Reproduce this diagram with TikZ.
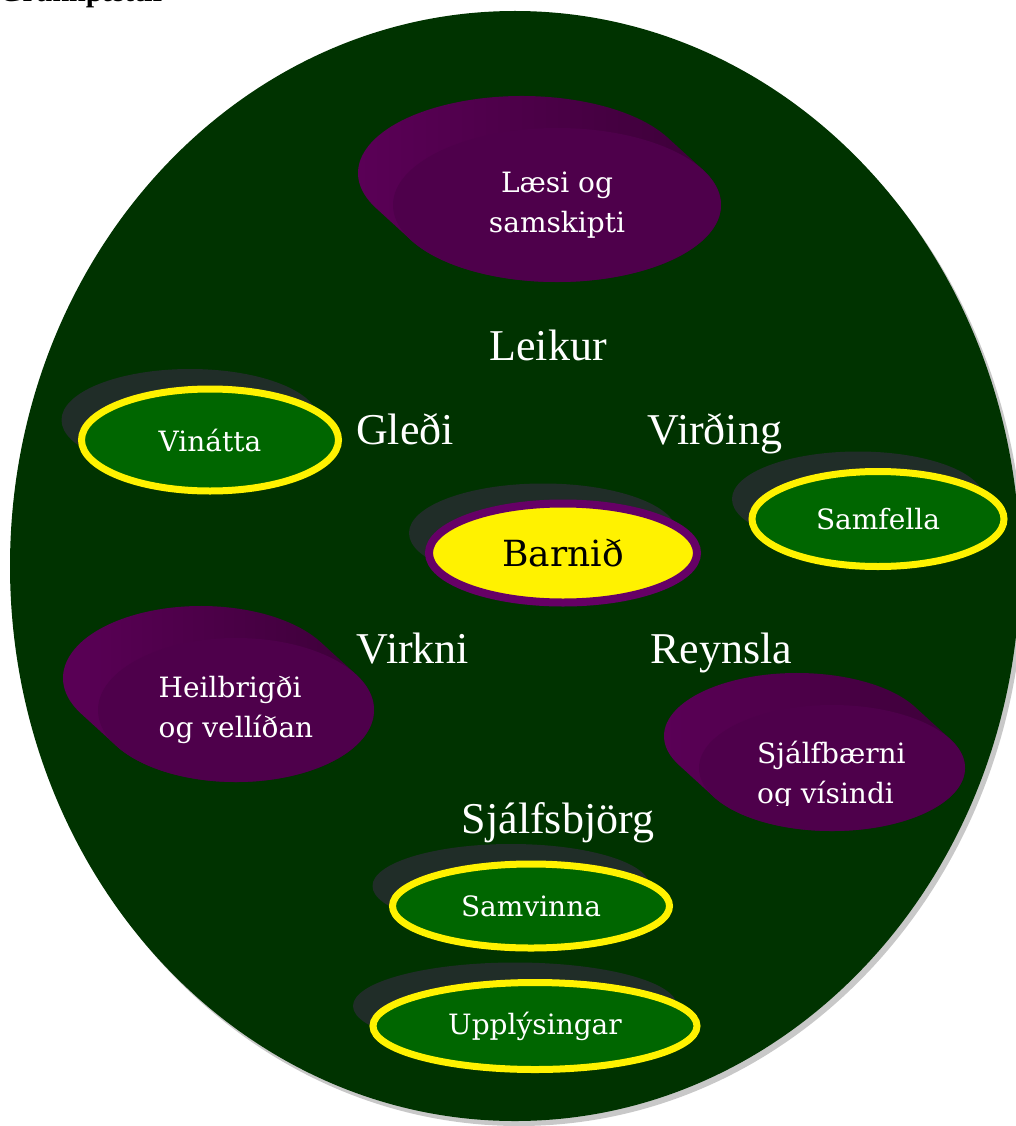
\documentclass[tikz,border=0pt]{standalone}
\usepackage{fontspec}
\usepackage{tikz}
\usetikzlibrary{shadows,shapes,positioning}
\newfontfamily\ovalfont{DejaVu Serif}
\newfontfamily\labelfont{Liberation Serif}
\definecolor{egggreen}{RGB}{0,51,0}
\definecolor{eggshadow}{RGB}{200,200,200}
\definecolor{ovalgreen}{RGB}{0,102,0}
\definecolor{ovalshade}{RGB}{32,45,40}
\definecolor{barnring}{RGB}{102,0,102}
\definecolor{purpleface}{RGB}{78,0,75}
\definecolor{purpleback}{RGB}{58,0,54}
\definecolor{purpleside}{RGB}{92,0,88}
\tikzset{
  oval shadow/.style={
    general shadow={shadow xshift=-20pt, shadow yshift=20pt, fill=ovalshade}
  }
}

\begin{document}
\begin{tikzpicture}[
        x=1pt, y=-1pt,
        greenoval/.style={ellipse, draw=yellow, line width=7pt, fill=ovalgreen, inner sep=0pt, text=white, font=\ovalfont\fontsize{28}{40}\selectfont, oval shadow},
        childoval/.style={ellipse, draw=barnring, line width=8pt, fill=yellow, inner sep=0pt, text=black, font=\ovalfont\fontsize{36}{44}\selectfont, oval shadow},
        purpleoval/.style={ellipse, fill=purpleface, inner sep=0pt, text=white, font=\ovalfont\fontsize{28}{40}\selectfont},
        ovaltext/.style={text=white, align=left, font=\ovalfont\fontsize{28}{40}\selectfont},
        corelabel/.style={anchor=base, text=white, font=\labelfont\fontsize{44}{52}\selectfont}
    ]
        \clip (0,0) rectangle (1016,1126);

        % Heading, cut by the top edge
        \node[anchor=base west, inner sep=0pt, font=\labelfont\bfseries\fontsize{30}{36}\selectfont] (heading) at (-1,2) {Grunnþættir};

        % The big green egg
        \fill[eggshadow] (519,571) ellipse (505 and 555);
        \fill[egggreen] (515,566) ellipse (505 and 555);

        % Values round the child
        \node[corelabel] (leikur) at (548,360) {Leikur};
        \node[corelabel] (gledi) at (405,444) {Gleði};
        \node[corelabel] (virding) at (715,444) {Virðing};
        \node[corelabel] (virkni) at (413,663) {Virkni};
        \node[corelabel] (reynsla) at (721,663) {Reynsla};
        \node[corelabel] (sjalfsbjorg) at (558,833) {Sjálfsbjörg};

        % Raised purple areas: side of each, then its face
        \foreach \cx/\cy/\rx/\ry in {557/205/164/77, 236/710/138/72, 832/768/133/63}{
          \pgfmathsetmacro{\ta}{atan(-(35*\ry)/(32*\rx))}
          \pgfmathsetmacro{\sx}{\cx-35-\rx*cos(\ta)}
          \pgfmathsetmacro{\sy}{\cy-32-\ry*sin(\ta)}
          \shade[left color=purpleside, right color=purpleback]
            (\sx,\sy)
            arc[start angle=\ta+180, end angle=\ta+360, x radius=\rx, y radius=\ry]
            -- ++(35,32)
            arc[start angle=\ta, end angle=\ta+180, x radius=\rx, y radius=\ry]
            -- cycle;
        }
        \node[purpleoval, minimum width=328pt, minimum height=154pt, align=center] (laesi) at (557,205) {Læsi og\\samskipti};
        \node[purpleoval, minimum width=276pt, minimum height=144pt, align=left] (heilbrigdi) at (236,710) {Heilbrigði\\og vellíðan};
        \node[purpleoval, minimum width=266pt, minimum height=126pt] (sjalfbaerni) at (832,768) {};
        \begin{scope}
          \clip (690,700) rectangle (975,805);
          \node[ovaltext, anchor=west, inner sep=0pt] (sjalftext) at (757,775) {Sjálfbærni\\og vísindi};
        \end{scope}

        % Green areas
        \node[greenoval, minimum width=257pt, minimum height=102pt] (vinatta) at (210,440) {Vinátta};
        \node[greenoval, minimum width=252pt, minimum height=95pt] (samfella) at (878,519) {Samfella};
        \node[greenoval, minimum width=277pt, minimum height=84pt] (samvinna) at (531,906) {Samvinna};
        \node[greenoval, minimum width=324pt, minimum height=87pt] (upplysingar) at (535,1026) {Upplýsingar};

        % The child in the middle
        \node[childoval, minimum width=268pt, minimum height=99pt] (barnid) at (563,553) {Barnið};
    \end{tikzpicture}
\end{document}
